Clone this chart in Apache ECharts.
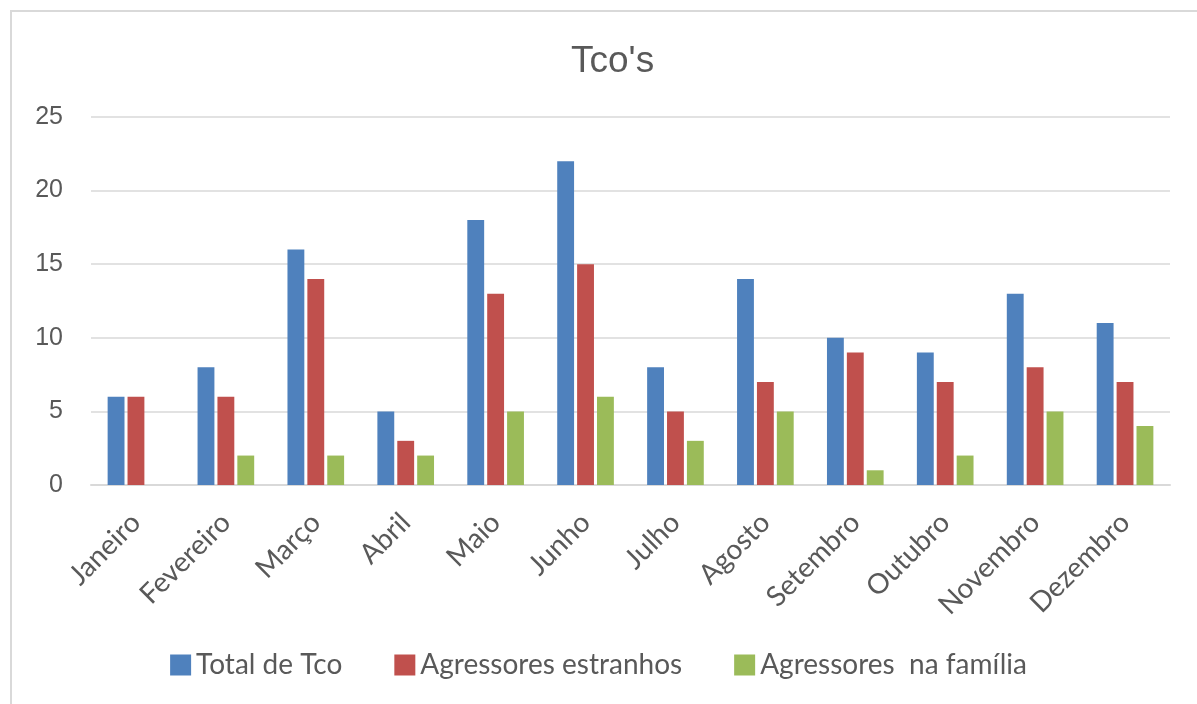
<!DOCTYPE html>
<html>
<head>
<meta charset="utf-8">
<style>
  html, body { margin: 0; padding: 0; background: #ffffff; }
  #chart { width: 1197px; height: 704px; }
</style>
<script src="https://cdn.jsdelivr.net/npm/echarts@6/dist/echarts.min.js"></script>
</head>
<body>
<div id="chart"></div>
<script>
// Monthly counts
const months = ['Janeiro', 'Fevereiro', 'Março', 'Abril', 'Maio', 'Junho', 'Julho', 'Agosto', 'Setembro', 'Outubro', 'Novembro', 'Dezembro'];
const totalTco = [6, 8, 16, 5, 18, 22, 8, 14, 10, 9, 13, 11];
const estranhos = [6, 6, 14, 3, 13, 15, 5, 7, 9, 7, 8, 7];
const familia = [0, 2, 2, 2, 5, 6, 3, 5, 1, 2, 5, 4];
const yTicks = [0, 5, 10, 15, 20, 25];

const textColor = '#595959';
const chart = echarts.init(document.getElementById('chart'), null, { renderer: 'canvas' });

const bar = (name, data, color) => ({
  name,
  type: 'bar',
  data,
  itemStyle: { color },
  barGap: '18%',
  barCategoryGap: '37%'
});

chart.setOption({
  backgroundColor: '#ffffff',
  animation: false,
  title: {
    text: "Tco's",
    left: 566,
    top: 38,
    textStyle: { fontFamily: 'Liberation Sans', fontSize: 37, fontWeight: 'normal', color: textColor }
  },
  legend: {
    top: 646,
    left: 'center',
    itemWidth: 21,
    itemHeight: 21,
    itemGap: 52,
    icon: 'rect',
    textStyle: { fontFamily: 'Lato', fontSize: 28, color: textColor },
    data: ['Total de Tco', 'Agressores estranhos', 'Agressores  na família']
  },
  grid: { left: 91, right: 27, top: 117, bottom: 219 },
  xAxis: {
    type: 'category',
    data: months,
    axisLine: { lineStyle: { color: '#d9d9d9', width: 2 } },
    axisTick: { show: false },
    axisLabel: {
      rotate: 45,
      margin: 33,
      interval: 0,
      fontFamily: 'Lato',
      fontSize: 28,
      color: textColor
    }
  },
  yAxis: {
    type: 'value',
    min: yTicks[0],
    max: yTicks[yTicks.length - 1],
    interval: 5,
    axisLine: { show: false },
    axisTick: { show: false },
    splitLine: { lineStyle: { color: '#d9d9d9', width: 1.5 } },
    axisLabel: {
      margin: 28,
      fontFamily: 'Liberation Sans',
      fontSize: 25,
      color: textColor
    }
  },
  graphic: [
    { type: 'line', shape: { x1: 11, y1: 11, x2: 11, y2: 704 }, style: { stroke: '#d9d9d9', lineWidth: 2 } },
    { type: 'line', shape: { x1: 10, y1: 11, x2: 1197, y2: 11 }, style: { stroke: '#d9d9d9', lineWidth: 2 } }
  ],
  series: [
    bar('Total de Tco', totalTco, '#4F81BD'),
    bar('Agressores estranhos', estranhos, '#C0504D'),
    bar('Agressores  na família', familia, '#9BBB59')
  ]
});
</script>
</body>
</html>
